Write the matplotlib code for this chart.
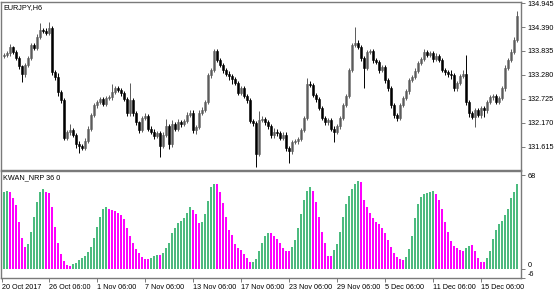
import matplotlib.pyplot as plt

# EURJPY H6 closes (first open given separately)
first_open = 133.72
closes = [
    133.74, 133.78, 133.92, 133.81, 133.67, 133.48, 133.30, 133.51, 133.67, 133.97,
    133.90, 134.16, 134.32, 134.30, 134.25, 134.37, 133.34, 133.23, 132.88, 132.69,
    131.83, 131.95, 132.00, 131.90, 131.69, 131.63, 131.60, 131.76, 132.04, 132.35,
    132.58, 132.65, 132.72, 132.60, 132.74, 132.76, 132.88, 132.97, 132.93, 132.86,
    132.72, 132.39, 132.69, 132.39, 132.18, 132.00, 132.28, 132.32, 132.04, 131.97,
    131.86, 131.93, 131.63, 131.90, 132.09, 131.67, 132.14, 132.04, 132.18, 132.14,
    132.21, 132.35, 132.41, 132.00, 132.07, 132.41, 132.48, 132.65, 133.27, 133.39,
    133.83, 133.62, 133.51, 133.39, 133.30, 133.25, 133.18, 133.09, 132.86, 132.97,
    132.79, 132.69, 132.21, 132.16, 131.46, 132.23, 132.25, 132.18, 132.09, 131.88,
    131.97, 131.93, 131.83, 131.90, 131.58, 131.51, 131.72, 131.74, 131.79, 132.00,
    132.28, 133.07, 133.04, 132.81, 132.72, 132.51, 132.28, 132.18, 132.23, 132.04,
    131.97, 132.09, 132.28, 132.58, 132.79, 133.39, 133.97, 134.02, 133.92, 133.67,
    133.44, 133.81, 133.83, 133.62, 133.58, 133.39, 133.46, 133.16, 132.97, 132.58,
    132.35, 132.28, 132.58, 132.74, 132.90, 133.16, 133.23, 133.37, 133.55, 133.65,
    133.81, 133.74, 133.78, 133.65, 133.72, 133.62, 133.39, 133.34, 133.30, 133.27,
    132.97, 133.09, 133.25, 133.30, 132.65, 132.39, 132.30, 132.46, 132.35, 132.51,
    132.46, 132.65, 132.76, 132.79, 132.65, 132.74, 132.97, 133.44, 133.62, 133.81,
    134.09, 134.64,
]
# upper / lower shadow lengths (in 0.01 yen)
wick_up = [
    5, 6, 8, 4, 4, 4, 4, 5, 5, 6,
    5, 6, 16, 5, 6, 13, 5, 6, 10, 5,
    5, 6, 14, 5, 4, 5, 5, 5, 6, 5,
    5, 5, 5, 6, 5, 5, 20, 6, 5, 5,
    5, 5, 40, 5, 5, 4, 6, 8, 5, 5,
    5, 6, 5, 6, 18, 5, 10, 6, 8, 6,
    5, 8, 6, 5, 5, 6, 5, 6, 5, 6,
    5, 5, 6, 5, 5, 8, 5, 5, 5, 6,
    5, 5, 5, 6, 5, 22, 8, 6, 5, 5,
    8, 6, 5, 6, 5, 5, 6, 5, 5, 6,
    6, 14, 8, 5, 5, 5, 6, 5, 6, 5,
    5, 6, 6, 6, 5, 6, 6, 38, 6, 5,
    5, 5, 6, 5, 6, 5, 6, 5, 5, 5,
    5, 5, 6, 5, 5, 6, 5, 6, 6, 5,
    6, 5, 6, 5, 6, 5, 5, 5, 5, 10,
    5, 6, 6, 10, 45, 5, 5, 6, 5, 6,
    5, 6, 6, 5, 5, 6, 5, 6, 6, 6,
    6, 12,
]
wick_dn = [
    5, 5, 5, 5, 5, 6, 18, 6, 5, 5,
    5, 5, 5, 5, 5, 5, 6, 6, 8, 6,
    6, 5, 5, 6, 10, 16, 6, 5, 5, 5,
    5, 6, 5, 5, 5, 5, 5, 5, 5, 6,
    5, 6, 5, 6, 5, 6, 5, 5, 6, 5,
    6, 5, 26, 5, 5, 10, 5, 6, 5, 6,
    5, 5, 5, 6, 8, 5, 5, 5, 5, 5,
    5, 5, 5, 6, 5, 8, 10, 5, 5, 5,
    5, 5, 5, 6, 30, 5, 5, 5, 6, 6,
    5, 6, 5, 5, 6, 28, 5, 5, 5, 5,
    5, 5, 5, 5, 6, 5, 5, 6, 5, 6,
    25, 5, 5, 5, 5, 5, 5, 5, 5, 6,
    46, 5, 5, 6, 5, 6, 5, 6, 5, 6,
    6, 6, 5, 5, 5, 5, 5, 5, 5, 5,
    5, 5, 5, 6, 5, 5, 5, 5, 6, 8,
    6, 5, 5, 5, 6, 8, 5, 22, 5, 6,
    15, 5, 5, 5, 5, 5, 5, 5, 5, 5,
    5, 5,
]

# KWAN_NRP 36 0 histogram
nrp = [
    55.8, 56.5, 56, 52, 46.6, 34.5, 23, 16.4, 18.4, 26.8,
    38, 49, 55.8, 58, 56.3, 55, 45, 31, 18.8, 10.9,
    6, 2.9, 2.7, 3.6, 4.8, 7, 8, 9.7, 12.6, 16.2,
    23, 31, 38, 43.5, 45, 44, 43, 42, 40.6, 39.4,
    36.5, 29.7, 24, 18.8, 15, 11.6, 8.7, 7.7, 7.7, 8,
    9.7, 10.4, 10.6, 11.6, 15.2, 18.8, 26, 29.7, 33.8, 35,
    37.5, 40.5, 45, 43, 40.3, 33.8, 34.3, 39.9, 49.3, 59.7,
    62, 62, 56, 48.3, 38, 28.3, 24.6, 18, 15.7, 13.8,
    10.9, 8.5, 5.3, 5.3, 7.2, 13.3, 19, 24, 26.3, 26.3,
    24, 21.7, 19, 15.7, 13.3, 13, 16.2, 21.5, 30, 40.3,
    50, 56.8, 59.7, 56.8, 48.8, 38, 27, 19, 9.4, 9.4,
    13.8, 18, 27, 38, 47.6, 53, 58, 62, 64, 63,
    50, 45, 41, 37, 34.5, 33, 29.7, 26.6, 21.2, 16,
    11.7, 9, 7.1, 6.7, 8.6, 14.5, 24.2, 37.5, 47, 52.7,
    54.3, 55.3, 56.2, 56.7, 54.3, 50.5, 43.5, 34.4, 26.9, 20.3,
    16.8, 15.1, 13.9, 13.3, 15.7, 17.1, 17.6, 12.9, 8.5, 5.3,
    5.3, 8.5, 13, 21.6, 28.2, 33, 35.1, 39.2, 43.9, 51.3,
    55.8, 61.7,
]
nrp_dir = ("ggmmmmmmgg" "ggggmmmmmm" "mmmggggggg" "gggggmmmmm" "mmmmmmmmmg"
           "ggmggggggg" "gggmmmgggg" "gmmmmmmmmm" "mmmggggggm" "mmmmmmgggg"
           "gggmmmmmmm" "gggggggggm" "mmmmmmmmmm" "mmmmgggggg" "ggggmmmmmm"
           "mmmmggmmmm" "mggggggggg" "gg")

tick_bars = [15, 31, 47, 63, 79, 95, 111, 127, 143, 159]
tick_labels = ['26 Oct 06:00', '1 Nov 06:00', '7 Nov 06:00', '13 Nov 06:00',
               '17 Nov 06:00', '23 Nov 06:00', '29 Nov 06:00', '5 Dec 06:00',
               '11 Dec 06:00', '15 Dec 06:00']
price_ticks = [134.945, 134.390, 133.835, 133.280, 132.725, 132.170, 131.615]

plt.rcParams['font.family'] = ['Liberation Sans', 'DejaVu Sans']

n = len(closes)
x = list(range(n))
opens = [first_open] + closes[:-1]
highs = [max(o, c) + u / 100 for o, c, u in zip(opens, closes, wick_up)]
lows = [min(o, c) - d / 100 for o, c, d in zip(opens, closes, wick_dn)]

W, H = 560, 294
fig = plt.figure(figsize=(W / 100, H / 100), dpi=100)
ax1 = fig.add_axes([1 / W, 1 - 169.5 / H, 520 / W, 167.5 / H])
ax2 = fig.add_axes([1 / W, 1 - 278 / H, 520 / W, 107 / H])

bull_face, bull_edge = '#9c9c9c', '#5a5a5a'
up = [c >= o for o, c in zip(opens, closes)]
wick_col = [bull_edge if u else 'black' for u in up]
ax1.vlines(x, lows, highs, colors=wick_col, linewidth=0.7)
body_bot = [min(o, c) for o, c in zip(opens, closes)]
body_h = [max(abs(c - o), 0.012) for o, c in zip(opens, closes)]
ax1.bar(x, body_h, bottom=body_bot, width=0.62,
        color=[bull_face if u else 'black' for u in up],
        edgecolor=wick_col, linewidth=0.4)

ax1.set_xlim(-1, 172.33)
ax1.set_ylim(131.091, 134.969)
ax1.set_xticks([])
ax1.yaxis.tick_right()
ax1.set_yticks(price_ticks)
ax1.set_yticklabels([f'{p:.3f}' for p in price_ticks])

colors = ['#4cbb7f' if d == 'g' else '#ff00ff' for d in nrp_dir]
ax2.bar(x, nrp, width=0.58, color=colors, linewidth=0)
ax2.set_xlim(-1, 172.33)
ax2.set_ylim(-6.3, 71.2)
ax2.yaxis.tick_right()
ax2.set_yticks([68, 0, -6])
ax2.set_yticklabels(['68', '0', '-6'])
ax2.get_yticklabels()[1].set_verticalalignment('bottom')
ax2.get_yticklabels()[2].set_verticalalignment('bottom')
ax2.set_xticks([-0.67] + tick_bars)
ax2.set_xticklabels(['20 Oct 2017'] + tick_labels)
for lab in ax2.get_xticklabels():
    lab.set_horizontalalignment('left')

for ax in (ax1, ax2):
    for s in ax.spines.values():
        s.set_color('#7a7a7a')
        s.set_linewidth(1.0)
    ax.tick_params(axis='both', direction='out', length=3, width=0.7,
                   color='#7a7a7a', labelsize=5.2, pad=1.5, labelcolor='black')

ax1.text(0.004, 0.985, 'EURJPY,H6', transform=ax1.transAxes, fontsize=5.2,
         va='top', ha='left')
ax2.text(0.004, 0.965, 'KWAN_NRP 36 0', transform=ax2.transAxes, fontsize=5.2,
         va='top', ha='left')

fig.savefig('out.png', dpi=100, facecolor='white')
